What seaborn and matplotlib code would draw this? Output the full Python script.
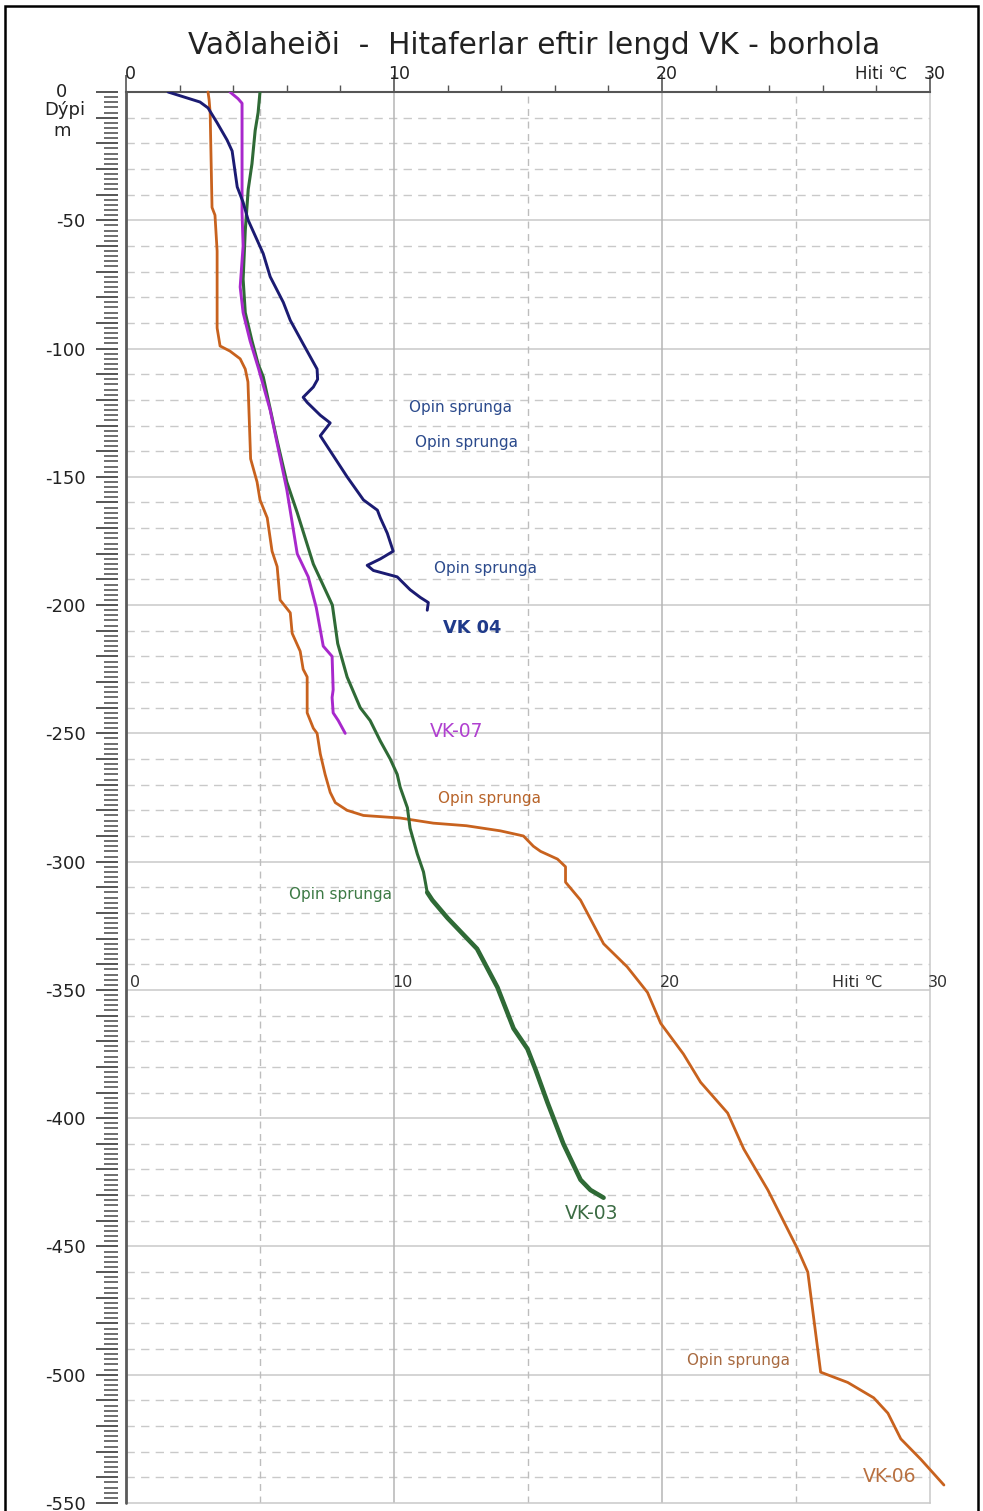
import numpy as np
import pandas as pd
import matplotlib
matplotlib.use("Agg")
import matplotlib.pyplot as plt
import seaborn as sns
from matplotlib.ticker import FixedLocator, FixedFormatter, MultipleLocator, NullFormatter

# ---------------- data ----------------
title = "Vaðlaheiði  -  Hitaferlar eftir lengd VK - borhola"
x_ticks = [0, 10, 20, 30]
x_tick_labels = ["0", "10", "20", "30"]
x_unit = "Hiti ℃"
y_label_top = "Dýpi"
y_label_unit = "m"
y_label_ticks = [0, -50, -100, -150, -200, -250, -300, -350, -400, -450, -500, -550]
y_tick_labels = ["0", "-50", "-100", "-150", "-200", "-250", "-300", "-350",
                 "-400", "-450", "-500", "-550"]

vk04_temp = [1.57, 2.76, 3.06, 3.4, 3.77, 3.96, 4.15, 4.37, 4.56, 5.12, 5.38, 5.87,
             6.13, 6.6, 7.13, 7.15, 6.99, 6.61, 6.76, 7.25, 7.62, 7.25, 7.5, 8.25,
             8.86, 9.38, 9.49, 9.75, 9.97, 9.49, 9.0, 9.23, 10.12, 10.6, 10.98,
             11.28, 11.24]
vk04_depth = [0, -3.9, -6.2, -12, -18.7, -23, -37, -43, -50, -63, -72, -82,
              -89, -98, -108, -112, -115, -119, -121, -126, -129, -134, -138, -150,
              -159, -163, -166, -172, -179, -182, -184.5, -186.5, -189, -194, -197,
              -199, -202]

vk07_temp = [3.88, 4.18, 4.33, 4.33, 4.33, 4.37, 4.26, 4.37, 4.63, 4.95, 5.38,
             5.64, 6.0, 6.39, 6.8, 7.1, 7.36, 7.69, 7.73, 7.69, 7.73, 7.92, 8.18]
vk07_depth = [0, -2.6, -4.4, -21, -47, -60, -76, -86, -97, -108, -124,
              -137, -155, -180, -189, -201, -216, -220, -233, -236, -242, -245, -250]

vk03_temp = [5.0, 4.93, 4.82, 4.7, 4.56, 4.45, 4.37, 4.45, 4.7, 4.93, 5.12, 5.64,
             6.0, 6.39, 6.99, 7.7, 7.9, 8.25, 8.74, 9.11, 9.49, 9.86, 10.12, 10.23,
             10.5, 10.6, 10.87, 11.1, 11.24, 11.43, 12.0, 13.1, 13.86, 14.46, 14.98,
             15.28, 15.73, 16.32, 16.96, 17.33, 17.82]
vk03_depth = [0, -8, -15, -28, -38, -54, -73, -86, -97, -106, -111, -136,
              -152, -164, -184, -200, -215, -228, -240, -245, -253, -260, -266, -271,
              -279, -287, -297, -304, -312, -315, -322, -334, -349, -365, -373,
              -381, -394, -410, -424, -428, -431]

vk06_temp = [3.06, 3.1, 3.14, 3.21, 3.32, 3.4, 3.4, 3.51, 3.88, 4.26, 4.45, 4.55,
             4.65, 4.89, 5.0, 5.27, 5.45, 5.64, 5.75, 6.13, 6.2, 6.5, 6.61, 6.76,
             6.76, 6.99, 7.13, 7.25, 7.43, 7.62, 7.81, 8.25, 8.86, 10.23, 11.47,
             12.7, 13.97, 14.83, 15.2, 15.47, 16.1, 16.4, 16.4, 16.96, 17.82, 18.7,
             19.46, 19.95, 20.8, 21.44, 22.45, 23.05, 23.95, 25.06, 25.44, 25.92,
             26.93, 27.9, 28.43, 28.91, 29.66, 30.52]
vk06_depth = [0, -3, -8, -45, -48, -62, -92, -99, -101, -104, -108, -113,
              -143, -152, -159, -166, -179, -185, -198, -203, -211, -218, -225, -228,
              -242, -248, -250, -258, -266, -273, -277, -280, -282, -283, -285,
              -286, -288, -290, -294, -296, -299, -302, -308, -315, -332, -341,
              -351, -363, -375, -386, -398, -412, -428, -451, -460, -499,
              -503, -509, -515, -525, -533, -543]

annotations = [
    ("Opin sprunga", 12.48, -122.8, "#2b4a8c", 11, "normal"),
    ("Opin sprunga", 12.70, -136.8, "#2b4a8c", 11, "normal"),
    ("Opin sprunga", 13.41, -185.6, "#2b4a8c", 11, "normal"),
    ("VK 04", 12.93, -209.0, "#1f3a8a", 12.8, "bold"),
    ("VK-07", 12.33, -249.1, "#b040d0", 13.5, "normal"),
    ("Opin sprunga", 13.56, -275.2, "#b8642a", 11, "normal"),
    ("Opin sprunga", 7.99, -312.7, "#3d7a45", 11, "normal"),
    ("VK-03", 17.37, -437.0, "#3b6b43", 13.5, "normal"),
    ("Opin sprunga", 22.86, -494.3, "#a86a40", 11, "normal"),
    ("VK-06", 28.50, -539.6, "#b87040", 13.5, "normal"),
]

# second (inner) temperature scale labels
inner_x = [0.34, 10.3, 20.3, 27.3, 30.3]
inner_labels = ["0", "10", "20", "Hiti ℃", "30"]
inner_depth = -347

# ---------------- style ----------------
sns.set_theme(style="white")
plt.rcParams['font.family'] = ['DejaVu Sans']

W, H = 983, 1511
fig = plt.figure(figsize=(W / 100, H / 100), dpi=100)
fig.patch.set_facecolor("white")
ax = fig.add_axes([126 / W, 1 - 1503 / H, (930 - 126) / W, (1503 - 92) / H])
ax.set_xlim(0, 30)
ax.set_ylim(-550, 0)

grid_c = "#c9c9c9"
dash = (0, (6, 4.5))
for d in np.arange(-540, 0, 10):
    if d % 50 == 0:
        ax.axhline(d, color=grid_c, lw=1.1, zorder=1)
    else:
        ax.axhline(d, color=grid_c, lw=1.0, ls=dash, zorder=1)
for t in [5, 15, 25]:
    ax.axvline(t, color="#bdbdbd", lw=1.0, ls=(0, (5, 4)), zorder=1)
for t in [10, 20]:
    ax.axvline(t, color="#b5b5b5", lw=1.1, zorder=1)

# curves
df04 = pd.DataFrame({"T": vk04_temp, "D": vk04_depth})
df07 = pd.DataFrame({"T": vk07_temp, "D": vk07_depth})
df03 = pd.DataFrame({"T": vk03_temp, "D": vk03_depth})
df06 = pd.DataFrame({"T": vk06_temp, "D": vk06_depth})

kw = dict(sort=False, estimator=None, legend=False, ax=ax, zorder=3)
sns.lineplot(data=df06, x="T", y="D", color="#c8621e", linewidth=2.0, clip_on=False, **kw)
sns.lineplot(data=df03, x="T", y="D", color="#2f6a36", linewidth=2.2, **kw)
sns.lineplot(data=df03[df03["D"] <= -312], x="T", y="D", color="#2f6a36", linewidth=3.3, **kw)
sns.lineplot(data=df07, x="T", y="D", color="#a828cc", linewidth=2.1, **kw)
sns.lineplot(data=df04, x="T", y="D", color="#1b1b72", linewidth=2.1, **kw)

for txt, x, y, c, fs, fw in annotations:
    ax.text(x, y, txt, color=c, fontsize=fs, fontweight=fw, ha="center", va="center", zorder=4)

for x, lab in zip(inner_x, inner_labels):
    ax.text(x, inner_depth, lab, color="#333333", fontsize=11.5, ha="center", va="center",
            zorder=4, clip_on=False)

# axes / spines
ax.set_xlabel("")
ax.set_ylabel("")
ax.xaxis.tick_top()
ax.xaxis.set_major_locator(FixedLocator(x_ticks))
ax.xaxis.set_major_formatter(NullFormatter())
ax.xaxis.set_minor_locator(MultipleLocator(2))
ax.tick_params(axis="x", which="major", direction="out", length=12, width=1.2,
               color="#555555", top=True, bottom=False)
ax.tick_params(axis="x", which="minor", direction="out", length=5, width=1.0,
               color="#555555", top=True, bottom=False)
for x, lab in zip(x_ticks, x_tick_labels):
    ax.text(x + 0.18, 7.0, lab, color="#222222", fontsize=12.5, ha="center", va="center",
            clip_on=False)

# y tick labels (the top "0" is placed separately, further left, as in the original)
ytick_pos = list(np.arange(-550, 1, 10))
ytick_lab = [y_tick_labels[y_label_ticks.index(v)] if (v in y_label_ticks and v != 0) else ""
             for v in ytick_pos]
ax.yaxis.set_major_locator(FixedLocator(ytick_pos))
ax.yaxis.set_major_formatter(FixedFormatter(ytick_lab))
ax.yaxis.set_minor_locator(MultipleLocator(2))
ax.tick_params(axis="y", which="major", direction="out", length=16, width=1.4,
               color="#555555", labelsize=13, labelcolor="#222222", pad=7, left=True)
ax.tick_params(axis="y", which="minor", direction="out", length=10, width=1.2,
               color="#555555", left=True)
for lab in ax.get_yticklabels():
    lab.set_ha("center")
fig.text(62 / W, 1 - 92 / H, y_tick_labels[0], fontsize=13, color="#222222",
         ha="center", va="center")

ax.spines["left"].set_position(("outward", 6))
ax.spines["left"].set_visible(False)
ax.axvline(0, color="#5a5a5a", lw=2.0, zorder=5, clip_on=False)
ax.spines["top"].set_color("#555555")
ax.spines["top"].set_linewidth(1.5)
ax.spines["right"].set_color(grid_c)
ax.spines["right"].set_linewidth(1.1)
ax.spines["bottom"].set_color(grid_c)
ax.spines["bottom"].set_linewidth(1.1)

# unit label on top axis
ax.text(28.17, 7.0, x_unit, color="#222222", fontsize=12, ha="center", va="center", clip_on=False)

# depth label
fig.text(65 / W, 1 - 110 / H, y_label_top, fontsize=13, color="#222222", ha="center", va="center")
fig.text(62 / W, 1 - 131 / H, y_label_unit, fontsize=13, color="#222222", ha="center", va="center")

# title
fig.text(534 / W, 1 - 46 / H, title, fontsize=21.3, color="#222222", ha="center", va="center")

# outer frame
fig.add_artist(plt.Rectangle((5 / W, -0.01), (978 - 5) / W, 1.01 - 6 / H,
                             transform=fig.transFigure, fill=False, ec="black", lw=1.8))

fig.savefig("out.png", dpi=100)
